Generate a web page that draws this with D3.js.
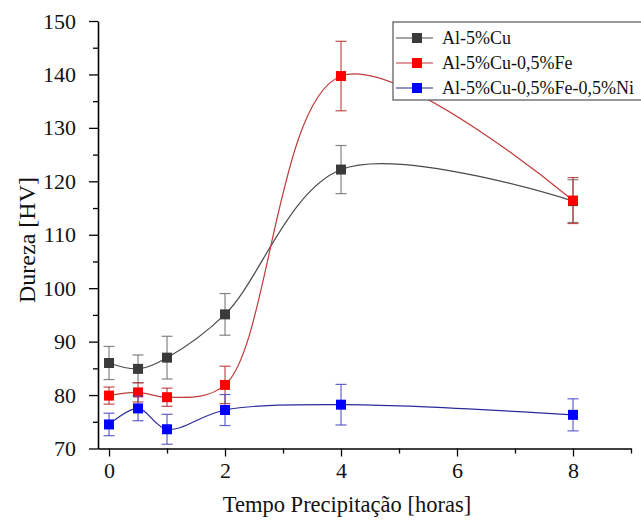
<!DOCTYPE html>
<html>
<head>
<meta charset="utf-8">
<script src="https://cdn.jsdelivr.net/npm/d3@7"></script>
<style>
  body { margin: 0; background: #fff; }
  svg, svg text { font-family: "Liberation Serif", "Times New Roman", serif; }
</style>
</head>
<body>
<div id="chart"></div>
<script>
// Data
const hours = [0, 0.5, 1, 2, 4, 8];
const seriesNames = ["Al-5%Cu", "Al-5%Cu-0,5%Fe", "Al-5%Cu-0,5%Fe-0,5%Ni"];
const cuValues = [86.0, 84.9, 87.0, 95.1, 122.2, 116.3];
const cuErrors = [3.1, 2.6, 4.0, 3.9, 4.5, 4.0];
const feValues = [79.9, 80.5, 79.6, 81.9, 139.7, 116.4];
const feErrors = [1.6, 1.8, 1.7, 3.5, 6.5, 4.3];
const niValues = [74.5, 77.5, 73.6, 77.2, 78.2, 76.3];
const niErrors = [2.1, 2.3, 2.8, 2.9, 3.8, 3.0];
const xTicks = [0, 2, 4, 6, 8];
const yTicks = [70, 80, 90, 100, 110, 120, 130, 140, 150];

const series = [
  {name: seriesNames[0], values: cuValues, errors: cuErrors, marker: "#3a3a3a", line: "#4a4a4a", bar: "#707070"},
  {name: seriesNames[1], values: feValues, errors: feErrors, marker: "#ff0000", line: "#c23a3a", bar: "#b83030"},
  {name: seriesNames[2], values: niValues, errors: niErrors, marker: "#0000ff", line: "#2a2a9a", bar: "#4848c0"}
];

const W = 641, H = 525;
const plotLeft = 98, plotRight = 631, plotTop = 21, plotBottom = 448.5;
const serif = '"Liberation Serif", "Times New Roman", serif';

const svg = d3.select("#chart").append("svg")
  .attr("width", W)
  .attr("height", H);

const x = d3.scaleLinear().domain([-0.19, 9]).range([plotLeft, plotRight]);
const y = d3.scaleLinear().domain([70, 150]).range([plotBottom, plotTop]);

// minor ticks
const gMinorX = svg.append("g")
  .attr("transform", `translate(0,${plotBottom})`)
  .call(d3.axisBottom(x).tickValues([1, 3, 5, 7, 9]).tickSize(5).tickFormat(""));
gMinorX.select(".domain").remove();
gMinorX.selectAll("line").attr("stroke-width", 1.3);

const gMinorY = svg.append("g")
  .attr("transform", `translate(${plotLeft},0)`)
  .call(d3.axisLeft(y).tickValues([75, 85, 95, 105, 115, 125, 135, 145]).tickSize(5).tickFormat(""));
gMinorY.select(".domain").remove();
gMinorY.selectAll("line").attr("stroke-width", 1.3);

// main axes
const gx = svg.append("g")
  .attr("transform", `translate(0,${plotBottom})`)
  .call(d3.axisBottom(x).tickValues(xTicks).tickSize(8).tickPadding(6).tickSizeOuter(0));
gx.attr("font-family", null);
gx.select(".domain").attr("stroke-width", 1.6);
gx.selectAll("line").attr("stroke-width", 1.3);
gx.selectAll("text")
  .style("font-family", serif)
  .style("font-size", "22px")
  .attr("fill", "#111");

const gy = svg.append("g")
  .attr("transform", `translate(${plotLeft},0)`)
  .call(d3.axisLeft(y).tickValues(yTicks).tickSize(9).tickPadding(13).tickSizeOuter(0));
gy.attr("font-family", null);
gy.select(".domain").attr("stroke-width", 1.6);
gy.selectAll("line").attr("stroke-width", 1.3);
gy.selectAll("text")
  .style("font-family", serif)
  .style("font-size", "22px")
  .attr("fill", "#111");

// axis titles
svg.append("text")
  .attr("x", 347)
  .attr("y", 512)
  .attr("text-anchor", "middle")
  .style("font-size", "22.5px")
  .attr("fill", "#111")
  .text("Tempo Precipitação [horas]");

svg.append("text")
  .attr("transform", "translate(35,240) rotate(-90)")
  .attr("text-anchor", "middle")
  .style("font-size", "24px")
  .attr("fill", "#111")
  .text("Dureza [HV]");

// smoothed lines
const line = d3.line()
  .x(d => x(d[0]))
  .y(d => y(d[1]))
  .curve(d3.curveCatmullRom.alpha(0.5));

series.forEach(s => {
  const pts = hours.map((h, i) => [h, s.values[i]]);
  svg.append("path")
    .datum(pts)
    .attr("fill", "none")
    .attr("stroke", s.line)
    .attr("stroke-width", 1.2)
    .attr("d", line);
});

// error bars and markers
series.forEach(s => {
  const g = svg.append("g");
  hours.forEach((h, i) => {
    const cx = x(h), v = s.values[i], e = s.errors[i];
    g.append("line")
      .attr("x1", cx).attr("x2", cx)
      .attr("y1", y(v + e)).attr("y2", y(v - e))
      .attr("stroke", s.bar).attr("stroke-width", 1.2).attr("opacity", 0.85);
    [v + e, v - e].forEach(c => {
      g.append("line")
        .attr("x1", cx - 5.5).attr("x2", cx + 5.5)
        .attr("y1", y(c)).attr("y2", y(c))
        .attr("stroke", s.bar).attr("stroke-width", 1.2).attr("opacity", 0.85);
    });
  });
  g.selectAll("rect")
    .data(hours.map((h, i) => [h, s.values[i]]))
    .enter()
    .append("rect")
      .attr("x", d => x(d[0]) - 5)
      .attr("y", d => y(d[1]) - 5)
      .attr("width", 10)
      .attr("height", 10)
      .attr("fill", s.marker);
});

// legend
const legend = svg.append("g").attr("transform", "translate(393,22)");
legend.append("rect")
  .attr("x", 0).attr("y", 0)
  .attr("width", 260).attr("height", 78)
  .attr("fill", "#fff")
  .attr("stroke", "#555")
  .attr("stroke-width", 1.2);

series.forEach((s, i) => {
  const ly = 16 + i * 25;
  legend.append("line")
    .attr("x1", 3).attr("x2", 40)
    .attr("y1", ly).attr("y2", ly)
    .attr("stroke", s.line).attr("stroke-width", 1.2);
  legend.append("rect")
    .attr("x", 19).attr("y", ly - 5)
    .attr("width", 10).attr("height", 10)
    .attr("fill", s.marker);
  legend.append("text")
    .attr("x", 49)
    .attr("y", ly + 6)
    .style("font-size", "18px")
    .attr("fill", "#111")
    .text(s.name);
});
</script>
</body>
</html>
